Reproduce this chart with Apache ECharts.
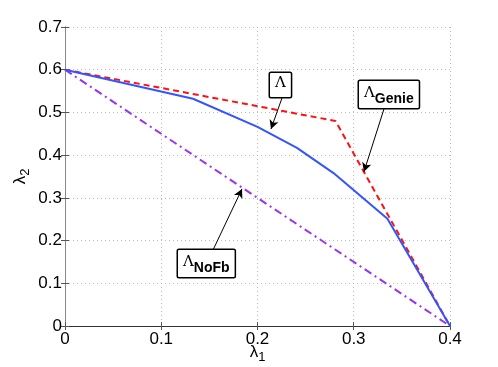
<!DOCTYPE html>
<html>
<head>
<meta charset="utf-8">
<script src="https://cdn.jsdelivr.net/npm/echarts@6/dist/echarts.min.js"></script>
<style>
  html, body { margin: 0; padding: 0; background: #fff; }
  #main { width: 498px; height: 367px; }
</style>
</head>
<body>
<div id="main"></div>
<script>
// region boundaries (lambda1, lambda2)
var lambdaRegion = [[0, 0.6], [0.133, 0.532], [0.2, 0.466], [0.241, 0.417], [0.279, 0.358], [0.335, 0.251], [0.4, 0]];
var genieRegion = [[0, 0.6], [0.281, 0.48], [0.4, 0]];
var noFbRegion = [[0, 0.6], [0.4, 0]];

var xTicks = [0, 0.1, 0.2, 0.3, 0.4];
var yTicks = [0, 0.1, 0.2, 0.3, 0.4, 0.5, 0.6, 0.7];

// annotations: box anchor (data), arrow from, arrow to
var notes = [
    {name: 'L', box: [0.2135, 0.592], from: [0.2255, 0.534], to: [0.214, 0.461]},
    {name: 'Genie', box: [0.305, 0.574], from: [0.3314, 0.508], to: [0.3106, 0.361]},
    {name: 'NoFb', box: [0.1175, 0.178], from: [0.1538, 0.178], to: [0.1839, 0.321]}
];

var fontSans = 'Liberation Sans, Arial, Helvetica, sans-serif';

var chart = echarts.init(document.getElementById('main'));

var axisLineStyle = {color: '#555', width: 1};

function arrowData() {
    var d = [];
    for (var i = 0; i < notes.length; i++) {
        d.push([{coord: notes[i].from}, {coord: notes[i].to}]);
    }
    return d;
}

var option = {
    backgroundColor: '#fff',
    animation: false,
    grid: {left: 65, right: 48, top: 27, bottom: 41, outerBoundsMode: 'none', containLabel: false},
    xAxis: [
        {
            type: 'value', min: 0, max: 0.4, interval: 0.1,
            name: '{l|λ}{s|1}', nameLocation: 'middle', nameGap: 15, nameMoveOverlap: false,
            nameTextStyle: {
                rich: {
                    l: {fontFamily: fontSans, fontSize: 17, color: '#000'},
                    s: {fontFamily: fontSans, fontSize: 13, color: '#000', padding: [10, 0, 0, 0]}
                }
            },
            axisLine: {show: true, lineStyle: axisLineStyle},
            axisTick: {show: true, inside: true, length: 4, lineStyle: axisLineStyle},
            axisLabel: {
                color: '#000', fontFamily: fontSans, fontSize: 17, margin: 5,
                formatter: function (v) { return xTicks.indexOf(+v.toFixed(1)) >= 0 ? String(+v.toFixed(1)) : ''; }
            },
            splitLine: {show: true, lineStyle: {color: '#bbb', type: [1, 3]}}
        },
        {
            type: 'value', min: 0, max: 0.4, interval: 0.1, position: 'top',
            axisLine: {show: true, lineStyle: {color: '#333', width: 1}},
            axisTick: {show: true, inside: true, length: 4, lineStyle: axisLineStyle},
            axisLabel: {show: false},
            splitLine: {show: false}
        }
    ],
    yAxis: [
        {
            type: 'value', min: 0, max: 0.7, interval: 0.1,
            name: '{l|λ}{s|2}', nameLocation: 'middle', nameGap: 33, nameRotate: 90, nameMoveOverlap: false,
            nameTextStyle: {
                rich: {
                    l: {fontFamily: fontSans, fontSize: 17, color: '#000'},
                    s: {fontFamily: fontSans, fontSize: 13, color: '#000', padding: [10, 0, 0, 0]}
                }
            },
            axisLine: {show: true, lineStyle: axisLineStyle},
            axisTick: {show: true, inside: true, length: 4, lineStyle: axisLineStyle},
            axisLabel: {
                color: '#000', fontFamily: fontSans, fontSize: 17, margin: 3,
                formatter: function (v) { return yTicks.indexOf(+v.toFixed(1)) >= 0 ? String(+v.toFixed(1)) : ''; }
            },
            splitLine: {show: true, lineStyle: {color: '#bbb', type: [1, 3]}}
        },
        {
            type: 'value', min: 0, max: 0.7, interval: 0.1, position: 'right',
            axisLine: {show: true, lineStyle: {color: '#888', width: 1}},
            axisTick: {show: true, inside: true, length: 4, lineStyle: axisLineStyle},
            axisLabel: {show: false},
            splitLine: {show: false}
        }
    ],
    series: [
        {
            name: 'NoFb', type: 'line', data: noFbRegion, symbol: 'none',
            lineStyle: {color: '#9933ee', width: 2, type: [8, 4, 2, 4]}
        },
        {
            name: 'Genie', type: 'line', data: genieRegion, symbol: 'none',
            lineStyle: {color: '#ff1111', width: 2, type: [6, 4]}
        },
        {
            name: 'Lambda', type: 'line', data: lambdaRegion, symbol: 'none',
            lineStyle: {color: '#3355ff', width: 2},
            markLine: {
                silent: true,
                symbol: ['none', 'arrow'],
                symbolSize: [7, 9],
                label: {show: false},
                lineStyle: {color: '#000', width: 1, type: 'solid'},
                data: arrowData()
            }
        }
    ]
};

chart.setOption(option);

// annotation boxes placed at their data anchors
var boxes = [];
for (var i = 0; i < notes.length; i++) {
    var p = chart.convertToPixel({gridIndex: 0}, notes[i].box);
    var txt = notes[i].name === 'L' ? '{l|Λ}' : '{l|Λ}{s|' + notes[i].name + '}';
    boxes.push({
        type: 'text',
        x: Math.round(p[0]), y: Math.round(p[1]),
        z: 100,
        style: {
            text: txt,
            backgroundColor: '#fff',
            borderColor: '#000',
            borderWidth: 1.5,
            borderRadius: 1,
            padding: [3, 5, 2, 5],
            rich: {
                l: {fontFamily: 'DejaVu Serif, Liberation Serif, serif', fontSize: 15, color: '#000', padding: [0, 0, 4, 0]},
                s: {fontFamily: fontSans, fontSize: 14, fontWeight: 'bold', color: '#000', padding: [8, 0, 0, 0]}
            }
        }
    });
}
chart.setOption({graphic: boxes});
</script>
</body>
</html>
